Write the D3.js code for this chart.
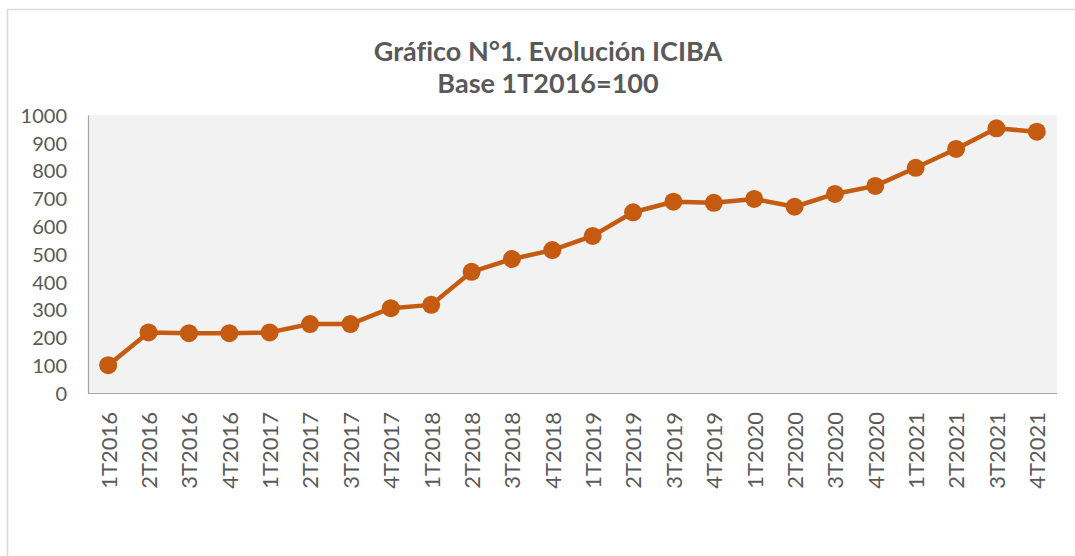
<!DOCTYPE html>
<html>
<head>
<meta charset="utf-8">
<script src="https://cdn.jsdelivr.net/npm/d3@7"></script>
<style>
  html, body { margin: 0; padding: 0; background: #ffffff; }
  svg { display: block; }
  text { font-variant-ligatures: none; font-feature-settings: "liga" 0; }
</style>
</head>
<body>
<div id="chart"></div>
<script>
// ---- Data ----
const categories = [
  "1T2016","2T2016","3T2016","4T2016",
  "1T2017","2T2017","3T2017","4T2017",
  "1T2018","2T2018","3T2018","4T2018",
  "1T2019","2T2019","3T2019","4T2019",
  "1T2020","2T2020","3T2020","4T2020",
  "1T2021","2T2021","3T2021","4T2021"
];
const iciba = [
  100, 218, 215, 215,
  218, 248, 248, 305,
  317, 436, 482, 514,
  565, 650, 688, 684,
  698, 670, 716, 745,
  810, 878, 952, 940
];
const yTicks = [0, 100, 200, 300, 400, 500, 600, 700, 800, 900, 1000];
const titleLines = ["Gráfico N°1. Evolución ICIBA", "Base 1T2016=100"];

// ---- Layout ----
const W = 1075, H = 556;
const plot = { left: 88, right: 1057, top: 115, bottom: 393 };
const textColor = "#595959";
const lineColor = "#C55A11";
const font = "Lato, 'Open Sans', sans-serif";

const svg = d3.select("#chart").append("svg")
  .attr("width", W).attr("height", H);

// outer frame
svg.append("rect")
  .attr("x", 7.5).attr("y", 9.5)
  .attr("width", W + 20).attr("height", H + 20)
  .attr("fill", "#ffffff")
  .attr("stroke", "#D9D9D9").attr("stroke-width", 1.5);

// title
svg.append("g").selectAll("text").data(titleLines).join("text")
  .attr("x", 548).attr("y", (d, i) => 61 + i * 32)
  .attr("text-anchor", "middle")
  .attr("font-family", font).attr("font-weight", 700)
  .attr("font-size", 27).attr("fill", textColor)
  .text(d => d);

// scales
const x = d3.scalePoint().domain(categories)
  .range([plot.left, plot.right]).padding(0.5);
const y = d3.scaleLinear().domain([0, 1000])
  .range([plot.bottom, plot.top]);

// plot background
svg.append("rect")
  .attr("x", plot.left).attr("y", plot.top)
  .attr("width", plot.right - plot.left).attr("height", plot.bottom - plot.top)
  .attr("fill", "#F2F2F2");

// y axis
const yAxis = svg.append("g")
  .attr("transform", `translate(${plot.left},0)`)
  .call(d3.axisLeft(y).tickValues(yTicks).tickSize(0).tickPadding(21).tickFormat(d3.format("d")));
yAxis.select(".domain").attr("stroke", "#A6A6A6").attr("stroke-width", 1.2);
yAxis.selectAll("text")
  .attr("font-family", font).attr("font-size", 20)
  .attr("fill", textColor).attr("dy", "0.36em");

// x axis
const xAxis = svg.append("g")
  .attr("transform", `translate(0,${plot.bottom})`)
  .call(d3.axisBottom(x).tickSize(0).tickSizeOuter(0));
xAxis.select(".domain")
  .attr("d", `M${plot.left},0.5H${plot.right}`)
  .attr("stroke", "#A6A6A6").attr("stroke-width", 1.2);
xAxis.selectAll("text")
  .attr("font-family", font).attr("font-size", 22)
  .attr("fill", textColor)
  .attr("text-anchor", "end")
  .attr("transform", "rotate(-90)")
  .attr("x", -19).attr("y", 0).attr("dy", "0.36em");

// line
const line = d3.line()
  .x((d, i) => x(categories[i]))
  .y(d => y(d));
svg.append("path")
  .datum(iciba)
  .attr("d", line)
  .attr("fill", "none")
  .attr("stroke", lineColor)
  .attr("stroke-width", 4.5)
  .attr("stroke-linejoin", "round");

// markers
svg.append("g").selectAll("circle").data(iciba).join("circle")
  .attr("cx", (d, i) => x(categories[i]))
  .attr("cy", d => y(d))
  .attr("r", 9)
  .attr("fill", lineColor);
</script>
</body>
</html>
